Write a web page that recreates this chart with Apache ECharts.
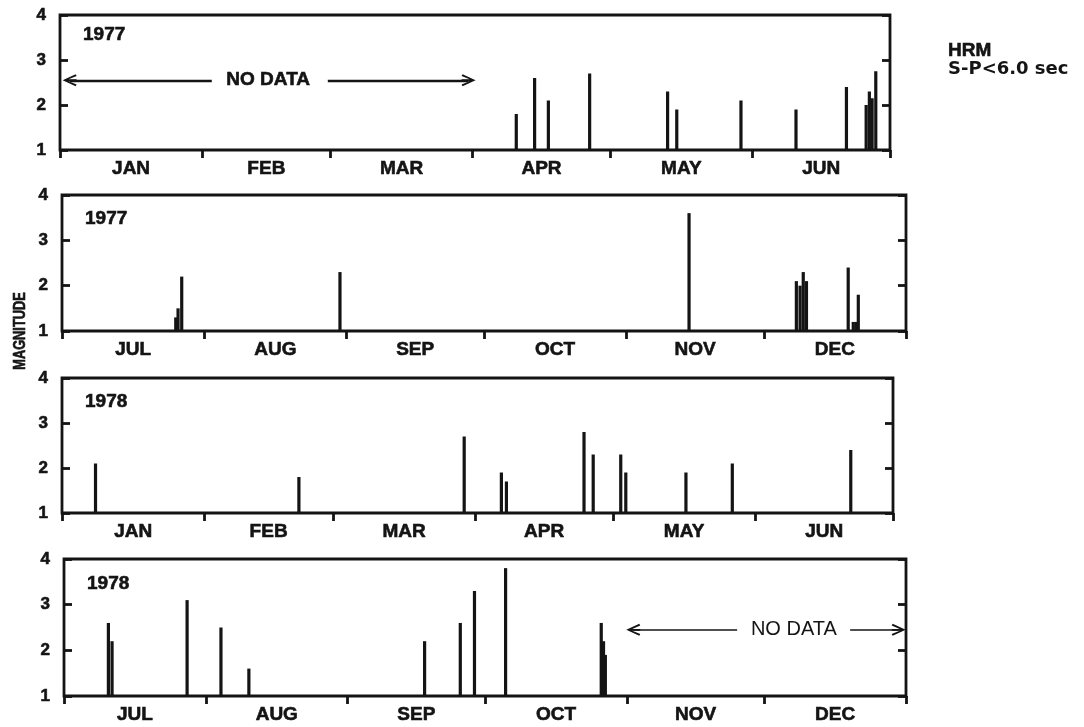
<!DOCTYPE html>
<html><head><meta charset="utf-8">
<script src="https://cdn.jsdelivr.net/npm/echarts@6/dist/echarts.min.js"></script>
<style>html,body{margin:0;padding:0;background:#fff}#c{width:1084px;height:727px}</style>
</head><body><div id="c"></div>
<script>
// ---- tick labels / categories ----
const monthsH1 = ['JAN','FEB','MAR','APR','MAY','JUN'];
const monthsH2 = ['JUL','AUG','SEP','OCT','NOV','DEC'];
const daysH1 = [31,28,31,30,31,30];
const daysH2 = [31,31,30,31,30,31];
const magTicks = [1,2,3,4];
const yearLabels = ['1977','1977','1978','1978'];
const sideLabel = ['HRM','S-P<6.0 sec'];
const yName = 'MAGNITUDE';

// ---- events: month index within half-year, day of month, magnitude ----
// Panel 1: Jan-Jun 1977
const p1Month = [3,3,3,3,4,4,4,5,5,5,5,5,5];
const p1Day   = [10,14,17,26,13,15,29,10,21,25.3,26,26.6,27.4];
const p1Mag   = [1.8,2.6,2.1,2.7,2.3,1.9,2.1,1.9,2.4,2.0,2.3,2.15,2.75];
// Panel 2: Jul-Dec 1977
const p2Month = [0,0,0,1,4,5,5,5,5,5,5,5,5];
const p2Day   = [25.3,25.8,26.6,30.1,14.2,7.6,8.4,9.1,9.8,18.9,20,20.6,21.1];
const p2Mag   = [1.3,1.5,2.2,2.3,3.6,2.1,2.0,2.3,2.1,2.4,1.2,1.2,1.8];
// Panel 3: Jan-Jun 1978
const p3Month = [0,1,2,3,3,3,3,4,4,4,4,5];
const p3Day   = [7.8,21.1,29.1,6.2,7.3,24.2,26.2,2.2,3.3,16.4,26.5,21.3];
const p3Mag   = [2.1,1.8,2.7,1.9,1.7,2.8,2.3,2.3,1.9,1.9,2.1,2.4];
// Panel 4: Jul-Dec 1978
const p4Month = [0,0,0,1,1,2,2,2,3,3,3,3];
const p4Day   = [10.2,11,27.4,3.8,9.9,17.3,25.1,28.2,5,25.9,26.4,26.8];
const p4Mag   = [2.6,2.2,3.1,2.5,1.6,2.2,2.6,3.3,3.8,2.6,2.2,1.9];

// ---- "NO DATA" periods (day offsets within the half-year) ----
const noData1 = {left:[2.1,33.1], text:45.4, right:[58.4,89.1], mag:2.55};
const noData4 = {left:[124.4,147.1], text:159.5, right:[171.8,182.4], mag:2.45};

const panels = [
  {months:monthsH1, days:daysH1, m:p1Month, d:p1Day, v:p1Mag, grid:{left:60, top:15, width:830, height:135}, yearDy:10, nd:noData1, ndBold:true},
  {months:monthsH2, days:daysH2, m:p2Month, d:p2Day, v:p2Mag, grid:{left:62, top:195, width:844, height:136}, yearDy:14},
  {months:monthsH1, days:daysH1, m:p3Month, d:p3Day, v:p3Mag, grid:{left:62, top:378, width:831, height:135}, yearDy:14},
  {months:monthsH2, days:daysH2, m:p4Month, d:p4Day, v:p4Mag, grid:{left:64, top:559, width:842, height:137}, yearDy:15, nd:noData4, ndBold:false}
];

const INK = '#141414';
const FONT = '"Liberation Sans", Arial, sans-serif';
const HEAVY = {textBorderColor:INK, textBorderWidth:0.6};
const arrowPath = 'path://M6,0 L12,13 L10.3,14 L6.9,6 L6.9,14 L5.1,14 L5.1,6 L1.7,14 L0,13 Z';

const grid = [], xAxis = [], yAxis = [], series = [], title = [];

panels.forEach((p, i) => {
  const starts = [0];
  p.days.forEach((n, k) => starts.push(starts[k] + n));
  const total = starts[starts.length - 1];
  const mids = p.days.map((n, k) => starts[k] + n / 2);

  grid.push(Object.assign({show:true, borderColor:INK, borderWidth:2.8, backgroundColor:'transparent', outerBoundsMode:'none', containLabel:false}, p.grid));

  xAxis.push({
    type:'value', gridIndex:i, min:0, max:total,
    axisLine:{show:false}, splitLine:{show:false},
    axisTick:{show:true, customValues:starts, length:8, lineStyle:{color:INK, width:2.8}},
    axisLabel:Object.assign({customValues:mids, margin:9, color:INK, fontSize:19, fontWeight:'bold', fontFamily:FONT,
      formatter:(val) => { let k = mids.findIndex(x => Math.abs(x - val) < 0.01); return k >= 0 ? p.months[k] : ''; }}, HEAVY)
  });

  const yBase = {type:'value', gridIndex:i, min:magTicks[0], max:magTicks[magTicks.length-1], interval:1,
    axisLine:{show:false}, splitLine:{show:false},
    axisTick:{show:true, inside:true, length:8, lineStyle:{color:INK, width:2.8}}};
  yAxis.push(Object.assign({}, yBase, {position:'left',
    axisLabel:Object.assign({margin:14, color:INK, fontSize:17, fontWeight:'bold', fontFamily:FONT}, HEAVY)}));
  yAxis.push(Object.assign({}, yBase, {position:'right', axisLabel:{show:false}}));

  const data = p.m.map((mm, k) => [starts[mm] + p.d[k] - 0.5, p.v[k]]);
  series.push({
    type:'custom', xAxisIndex:i, yAxisIndex:2*i, data:data, silent:true,
    renderItem:(params, api) => {
      const x = api.value(0), v = api.value(1);
      const top = api.coord([x, v]);
      const base = api.coord([x, magTicks[0]]);
      return {type:'rect', shape:{x:top[0]-1.6, y:top[1], width:3.2, height:base[1]-top[1]}, style:{fill:INK}};
    }
  });

  if (p.nd) {
    const nd = p.nd;
    const lw = p.ndBold ? 2.3 : 1.7;
    series.push({
      type:'scatter', xAxisIndex:i, yAxisIndex:2*i, silent:true, symbolSize:0,
      itemStyle:{opacity:1, color:INK},
      emphasis:{disabled:true},
      data:[[nd.text, nd.mag]],
      label:Object.assign({show:true, position:'inside', formatter:'NO DATA', color:INK, opacity:1,
        fontSize:p.ndBold ? 19 : 20, fontWeight:p.ndBold ? 'bold' : 'normal', fontFamily:FONT},
        p.ndBold ? HEAVY : {textBorderWidth:0}),
      markLine:{silent:true, animation:false, label:{show:false}, emphasis:{disabled:true},
        lineStyle:{type:'solid', color:INK, width:lw, opacity:1},
        data:[
          [{coord:[nd.left[0], nd.mag], symbol:arrowPath, symbolSize:[12,14]}, {coord:[nd.left[1], nd.mag], symbol:'none'}],
          [{coord:[nd.right[0], nd.mag], symbol:'none'}, {coord:[nd.right[1], nd.mag], symbol:arrowPath, symbolSize:[12,14]}]
        ]}
    });
  }

  title.push({text:yearLabels[i], left:p.grid.left + 23, top:p.grid.top + p.yearDy, padding:0,
    textStyle:Object.assign({color:INK, fontSize:19, fontWeight:'bold', fontFamily:FONT}, HEAVY)});
});

title.push({
  text:'{a|' + sideLabel[0] + '}\n{b|' + sideLabel[1] + '}', left:948, top:42, padding:0,
  textStyle:{rich:{
    a:Object.assign({color:INK, fontSize:19, fontWeight:'bold', fontFamily:FONT, lineHeight:18}, HEAVY),
    b:{color:INK, fontSize:18, fontWeight:'bold', fontFamily:'"DejaVu Sans", sans-serif', lineHeight:18}
  }}
});

const chart = echarts.init(document.getElementById('c'), null, {renderer:'canvas'});
chart.setOption({
  animation:false,
  backgroundColor:'#fff',
  title:title, grid:grid, xAxis:xAxis, yAxis:yAxis, series:series,
  graphic:[{type:'text', x:21, y:331, rotation:Math.PI/2, scaleX:0.8, silent:true,
    style:{text:yName, fill:INK, stroke:INK, lineWidth:0.6, font:'bold 16px "Liberation Sans", Arial', textAlign:'center', textVerticalAlign:'middle'}}]
});
</script></body></html>
